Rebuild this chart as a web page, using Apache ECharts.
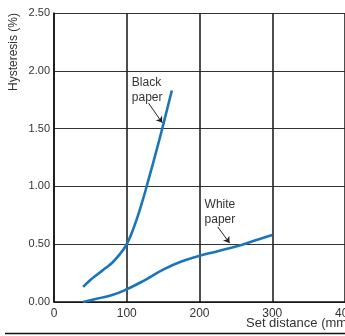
<!DOCTYPE html>
<html>
<head>
<meta charset="utf-8">
<title>Hysteresis vs set distance</title>
<script src="https://cdn.jsdelivr.net/npm/echarts@6/dist/echarts.min.js"></script>
<style>
    html, body { margin: 0; padding: 0; background: #fff; }
    #hysteresis_chart { width: 345px; height: 336px; }
</style>
</head>
<body>
<div id="hysteresis_chart"></div>
<script>

// Chart data
// ------------------------------

var xTicks = [0, 100, 200, 300, 400];
var yTicks = [0, 0.5, 1.0, 1.5, 2.0, 2.5];

// Black paper curve (set distance mm, hysteresis %)
var blackDistance = [40, 50, 60, 70, 80, 90, 100, 110, 120, 130, 140, 150, 162];
var blackHysteresis = [0.13, 0.19, 0.24, 0.29, 0.34, 0.41, 0.50, 0.65, 0.84, 1.06, 1.29, 1.53, 1.83];

// White paper curve
var whiteDistance = [40, 60, 80, 100, 125, 150, 175, 200, 225, 250, 275, 300];
var whiteHysteresis = [0.00, 0.03, 0.06, 0.11, 0.19, 0.28, 0.35, 0.40, 0.44, 0.48, 0.53, 0.58];

// Callouts: label position and arrow in data coordinates
var blackLabel = { text: 'Black\npaper', at: [107, 1.96], from: [130, 1.72], to: [148.8, 1.55] };
var whiteLabel = { text: 'White\npaper', at: [207, 0.91], from: [225, 0.65], to: [241.4, 0.51] };


var HysteresisChart = function() {

    var _init = function() {
        if (typeof echarts == 'undefined') {
            console.warn('Warning - echarts.min.js is not loaded.');
            return;
        }

        var element = document.getElementById('hysteresis_chart');
        if (!element) return;

        var chart = echarts.init(element);

        var pairs = function(xs, ys) {
            return xs.map(function(x, i) { return [x, ys[i]]; });
        };

        var arrowLine = function(label) {
            return {
                silent: true,
                symbol: ['none', 'arrow'],
                symbolSize: 6,
                lineStyle: { color: '#222', width: 1, type: 'solid' },
                label: { show: false },
                data: [[{ coord: label.from }, { coord: label.to }]]
            };
        };

        var lineColor = '#1b75bb';
        var fontFamily = 'Liberation Sans, Arial, sans-serif';

        chart.setOption({
            animation: false,
            textStyle: { fontFamily: fontFamily },

            grid: { left: 54, right: 0, top: 13, bottom: 34, containLabel: false, outerBoundsMode: 'none' },

            xAxis: {
                type: 'value',
                min: xTicks[0],
                max: xTicks[xTicks.length - 1],
                interval: 100,
                axisLine: { lineStyle: { color: '#111', width: 1.5 } },
                axisTick: { show: false },
                axisLabel: { color: '#333', fontSize: 12, margin: 6 },
                splitLine: { show: true, lineStyle: { color: '#222', width: 1.6 } }
            },

            yAxis: {
                type: 'value',
                min: yTicks[0],
                max: yTicks[yTicks.length - 1],
                interval: 0.5,
                axisLine: { show: true, lineStyle: { color: '#111', width: 1.5 } },
                axisTick: { show: false },
                axisLabel: {
                    color: '#333', fontSize: 11, margin: 4,
                    formatter: function(v) { return v.toFixed(2); }
                },
                splitLine: { show: true, lineStyle: { color: '#333', width: 1.2 } }
            },

            series: [
                {
                    name: 'Black paper',
                    type: 'line',
                    smooth: true,
                    showSymbol: false,
                    lineStyle: { color: lineColor, width: 2.6 },
                    data: pairs(blackDistance, blackHysteresis),
                    markLine: arrowLine(blackLabel)
                },
                {
                    name: 'White paper',
                    type: 'line',
                    smooth: true,
                    showSymbol: false,
                    lineStyle: { color: lineColor, width: 2.6 },
                    data: pairs(whiteDistance, whiteHysteresis),
                    markLine: arrowLine(whiteLabel)
                }
            ]
        });

        // Texts placed after layout so callouts follow the axes
        var toPx = function(c) { return chart.convertToPixel({ gridIndex: 0 }, c); };
        var bPos = toPx(blackLabel.at);
        var wPos = toPx(whiteLabel.at);

        chart.setOption({
            graphic: [
                {
                    type: 'text', x: bPos[0], y: bPos[1],
                    style: { text: blackLabel.text, fill: '#333', font: '12px ' + fontFamily, lineHeight: 15, backgroundColor: '#fff' }
                },
                {
                    type: 'text', x: wPos[0], y: wPos[1],
                    style: { text: whiteLabel.text, fill: '#333', font: '12px ' + fontFamily, lineHeight: 15, backgroundColor: '#fff' }
                },
                {
                    type: 'text', x: 8, y: 91, rotation: Math.PI / 2,
                    style: { text: 'Hysteresis (%)', fill: '#333', font: '12px ' + fontFamily }
                },
                {
                    type: 'text', x: 246, y: 317,
                    style: { text: 'Set distance (mm)', fill: '#333', font: '13px ' + fontFamily }
                },
                {
                    type: 'line',
                    shape: { x1: 5, y1: 333.5, x2: 345, y2: 333.5 },
                    style: { stroke: '#111', lineWidth: 1.5 }
                }
            ]
        });
    };

    return {
        init: function() {
            _init();
        }
    }
}();

document.addEventListener('DOMContentLoaded', function() {
    HysteresisChart.init();
});
</script>
</body>
</html>
